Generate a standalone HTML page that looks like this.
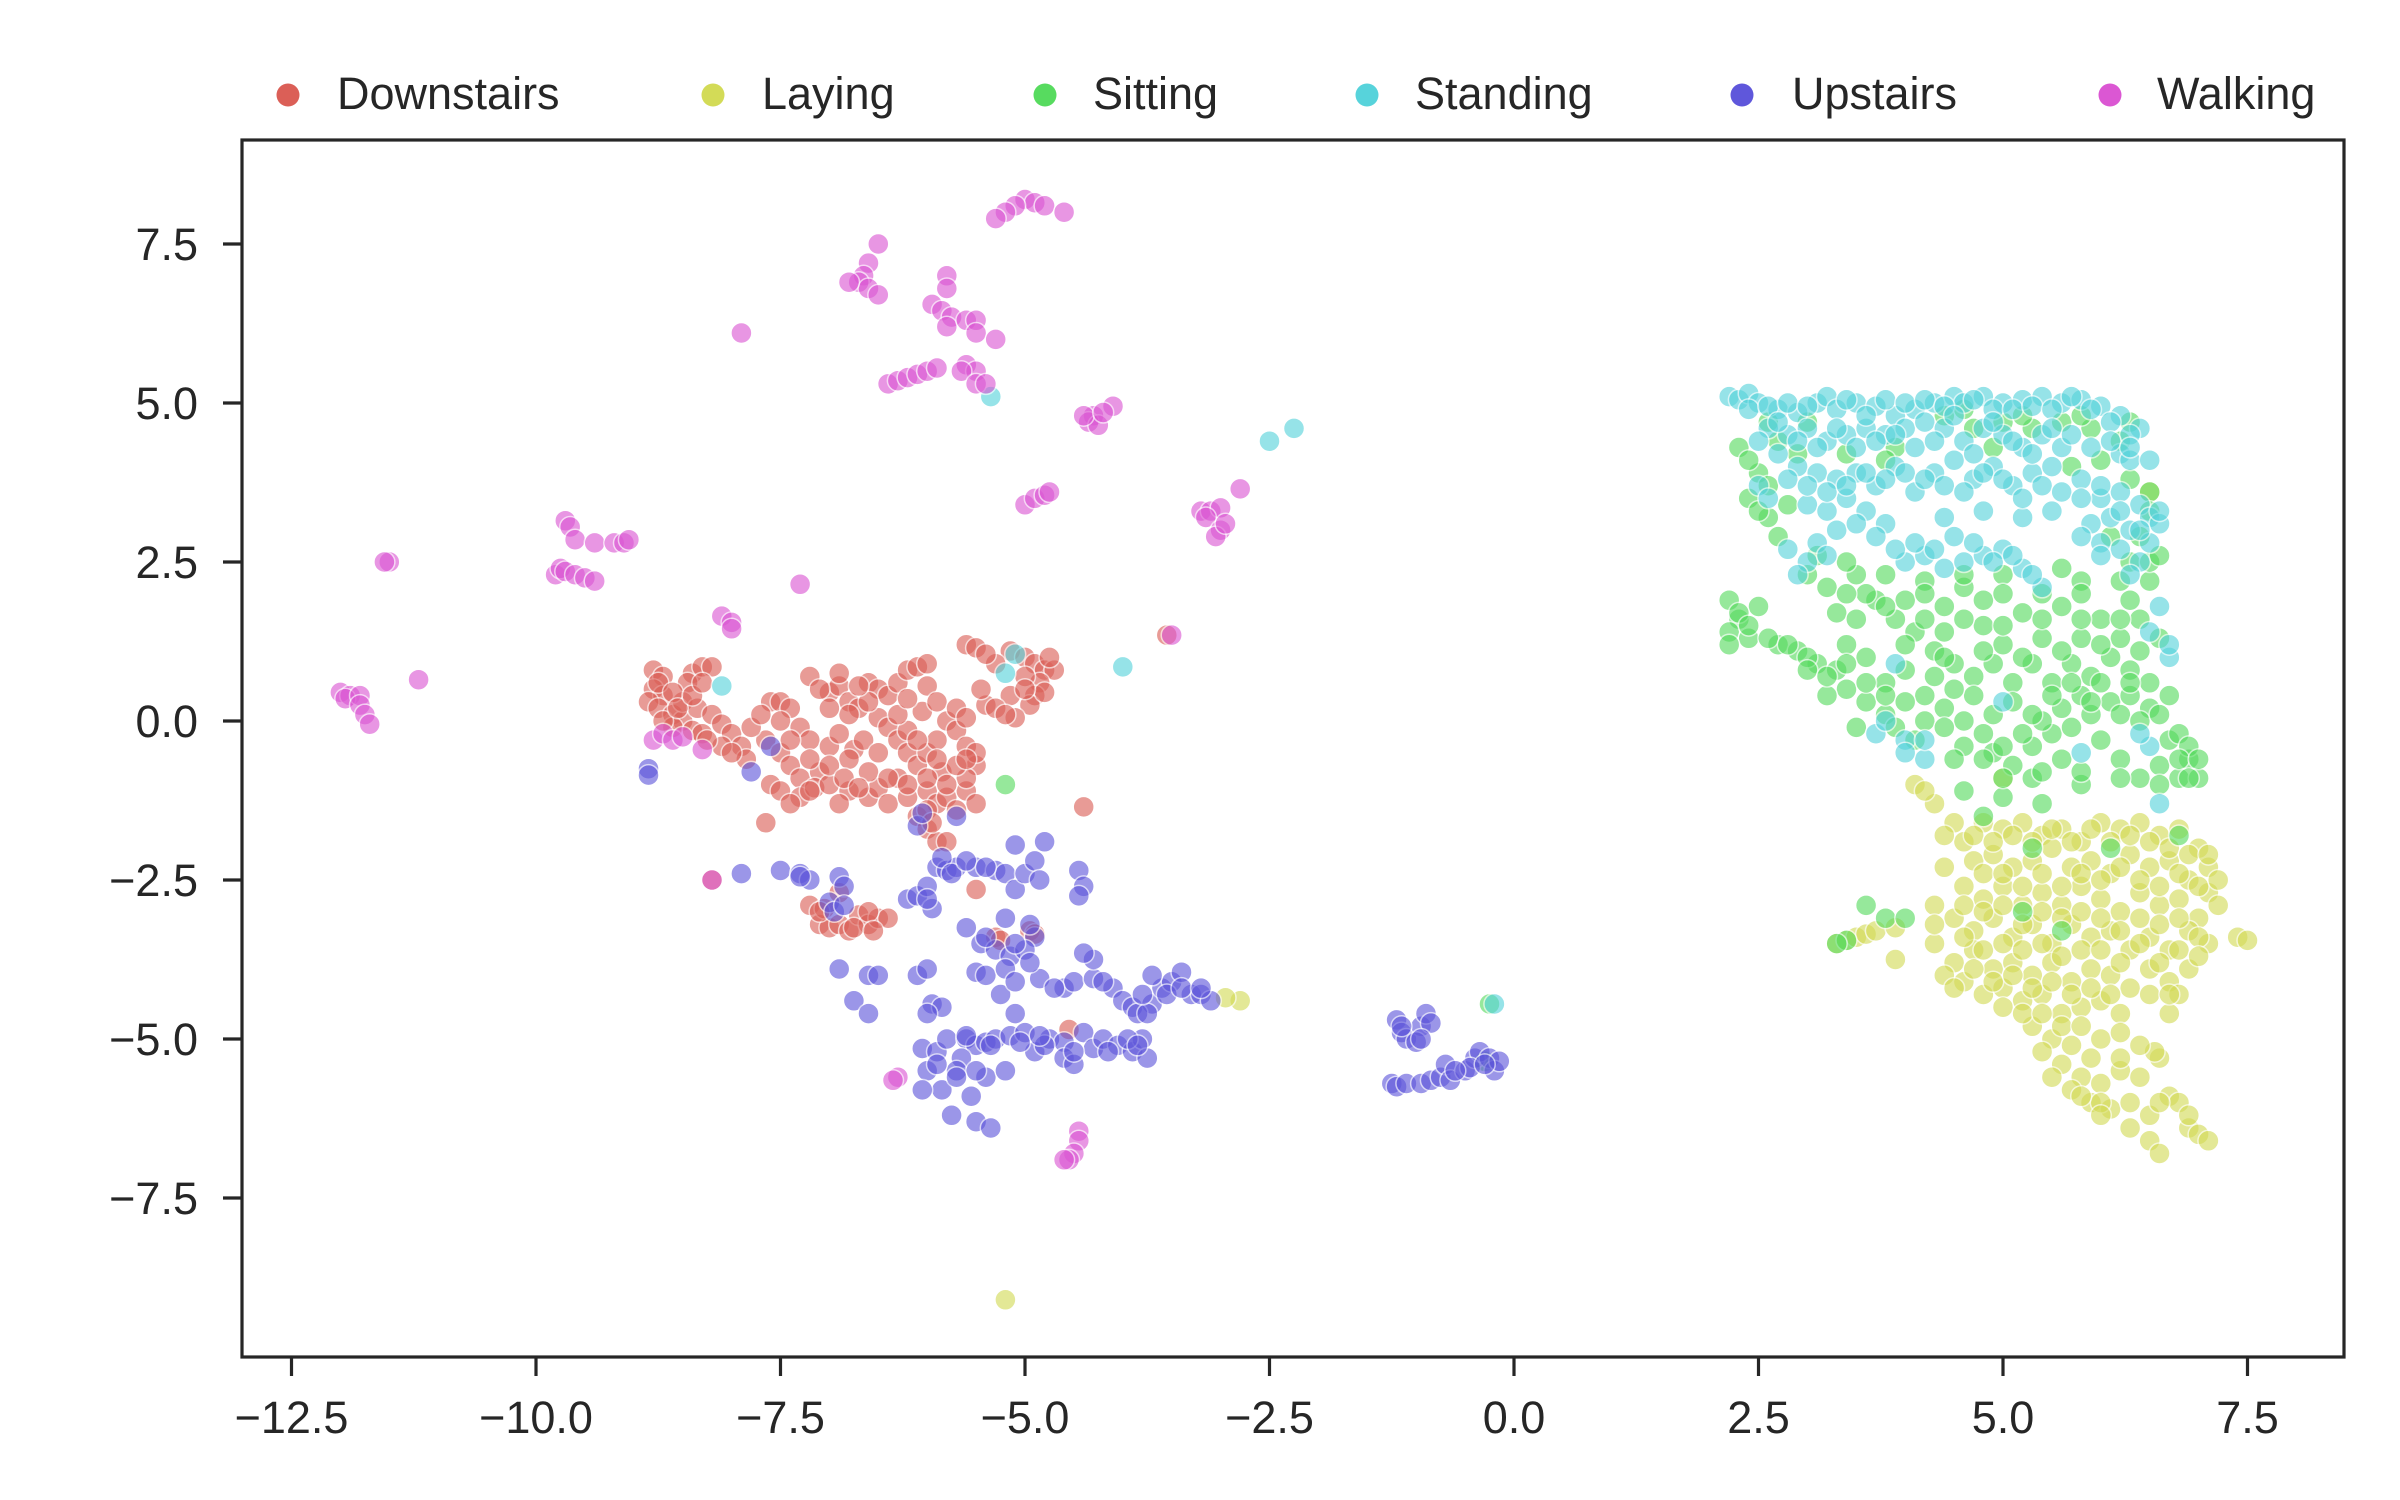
<!DOCTYPE html>
<html><head><meta charset="utf-8"><style>
html,body{margin:0;padding:0;background:#fff;}
svg{display:block;font-family:"Liberation Sans",Arial,sans-serif;}
</style></head><body>
<svg id="chart" width="2400" height="1500" viewBox="0 0 2400 1500">
<rect x="0" y="0" width="2400" height="1500" fill="#fff"/>
<g id="points"></g>
<g id="axes"></g>
<g id="legend"></g>
</svg>
<script>
const classes=["Downstairs","Laying","Sitting","Standing","Upstairs","Walking"];
const colors=["#db5f57","#d3db57","#57db5f","#57d3db","#5f57db","#db57d3"];
const xTicks=[-12.5,-10.0,-7.5,-5.0,-2.5,0.0,2.5,5.0,7.5];
const yTicks=[7.5,5.0,2.5,0.0,-2.5,-5.0,-7.5];
const xTickLabels=["\u221212.5","\u221210.0","\u22127.5","\u22125.0","\u22122.5","0.0","2.5","5.0","7.5"];
const yTickLabels=["7.5","5.0","2.5","0.0","\u22122.5","\u22125.0","\u22127.5"];
const downstairs=[-8.8,0.8,-8.7,0.7,-8.8,0.5,-8.7,0.4,-8.85,0.3,-8.75,0.2,-8.6,0.1,-8.5,0.0,-8.4,0.75,-8.3,0.85,-8.2,0.85,-8.45,0.6,-8.5,0.3,-8.35,0.2,-8.2,0.1,-8.1,-0.05,-8.0,-0.2,-7.9,-0.4,-7.85,-0.6,-8.6,-0.1,-8.4,-0.15,-8.7,0.0,-8.3,-0.2,-8.1,-0.4,
-7.6,0.3,-7.5,0.3,-7.4,0.2,-7.5,0.0,-7.3,-0.1,-7.2,-0.3,-7.0,-0.4,-6.9,-0.2,-6.75,-0.45,-7.65,-0.3,-7.5,-0.5,-7.4,-0.7,-7.3,-0.9,-7.1,-0.8,-7.6,-1.0,-7.5,-1.1,-7.3,-1.2,-7.15,-1.05,-7.0,-1.0,-6.8,-1.1,-6.6,-1.2,-6.5,-1.05,-6.4,-1.3,-6.2,-1.2,-6.0,-1.1,-5.9,-1.3,-5.8,-1.2,-5.6,-1.1,-5.5,-1.3,-5.7,-1.4,-6.9,-1.3,-6.6,-0.8,-7.65,-1.6,
-7.2,0.7,-7.0,0.45,-6.9,0.55,-6.8,0.3,-6.7,0.2,-6.6,0.6,-6.5,0.5,-6.4,0.4,-6.3,0.6,-6.2,0.8,-6.1,0.85,-6.0,0.9,-6.5,0.05,-6.4,-0.1,-6.3,-0.3,-6.2,-0.5,-6.1,-0.7,-6.0,-0.5,-5.9,-0.3,-5.8,0.0,-5.7,-0.15,-5.6,-0.4,-5.5,-0.7,-5.6,-0.9,-5.4,0.25,-6.2,-0.15,-6.05,0.15,-5.85,-0.8,-6.3,-0.9,-6.8,-0.6,-6.65,-0.3,
-5.6,1.2,-5.5,1.15,-5.15,1.1,-5.0,1.0,-4.9,0.9,-4.8,0.8,-4.7,0.8,-4.85,0.6,-4.9,0.4,-4.95,0.25,-5.15,0.4,-5.3,0.2,-5.1,0.05,-4.75,1.0,-5.2,0.1,
-4.4,-1.35,-6.1,-1.5,-6.0,-1.7,-5.9,-1.9,-5.8,-1.9,
-7.2,-2.9,-7.1,-3.2,-7.0,-3.25,-6.9,-3.2,-6.8,-3.3,-6.7,-3.05,-6.6,-3.2,-6.5,-3.1,-6.4,-3.1,-6.9,-2.7,-7.05,-2.95,-6.6,-3.0,
-5.5,-2.65,-5.3,-3.4,-5.25,-3.45,-4.95,-3.3,-4.9,-3.35,-8.2,-2.5,-3.55,1.35,-4.55,-4.85,
-8.75,0.6,-8.6,0.45,-8.55,0.2,-8.4,0.4,-8.3,0.6,-8.25,-0.3,-8.0,-0.5,-7.8,-0.1,-7.7,0.1,-7.4,-0.3,-7.2,-0.6,-7.0,-0.7,-6.85,-0.9,-7.2,-1.1,-7.4,-1.3,-6.7,-1.05,-6.4,-0.9,-6.2,-1.0,-6.0,-0.9,-5.8,-1.0,-5.7,-0.7,-5.5,-0.5,-5.6,-0.6,-5.9,-0.6,-6.1,-0.3,-6.3,0.1,-6.6,0.3,-6.8,0.1,-7.0,0.2,-7.1,0.5,-6.9,0.75,-6.7,0.55,-6.2,0.35,-6.0,0.55,-5.9,0.3,-5.7,0.2,-5.6,0.05,-5.45,0.5,-5.3,0.9,-5.0,0.7,-4.8,0.45,-5.0,0.5,-5.4,1.05,-6.5,-0.5,-6.0,-1.4,-5.95,-1.6,-7.1,-3.0,-6.75,-3.25,-6.55,-3.3];
const laying=[4.1,-1.0,4.3,-1.3,4.5,-1.6,4.6,-1.9,4.8,-1.6,5.0,-1.7,5.2,-1.6,5.4,-1.8,5.6,-1.7,5.8,-1.9,6.0,-1.6,6.2,-1.7,6.4,-1.6,6.6,-1.8,6.8,-1.7,7.0,-2.0,7.1,-2.3,
4.7,-2.2,4.9,-2.1,5.1,-2.3,5.3,-2.2,5.5,-2.0,5.7,-2.3,5.9,-2.2,6.1,-2.4,6.3,-2.1,6.5,-2.3,6.7,-2.2,6.9,-2.5,7.1,-2.7,
4.6,-2.6,4.8,-2.8,5.0,-2.6,5.2,-2.9,5.4,-2.7,5.6,-2.9,5.8,-2.6,6.0,-2.8,6.2,-3.0,6.4,-2.7,6.6,-2.9,6.8,-2.8,7.0,-3.1,7.2,-2.9,
4.5,-3.1,4.7,-3.3,4.9,-3.1,5.1,-3.4,5.3,-3.2,5.5,-3.5,5.7,-3.2,5.9,-3.4,6.1,-3.3,6.3,-3.6,6.5,-3.4,6.7,-3.6,6.9,-3.3,7.1,-3.5,7.4,-3.4,7.5,-3.45,
4.3,-3.5,4.5,-3.8,4.7,-3.6,4.9,-3.9,5.1,-3.8,5.3,-4.0,5.5,-3.8,5.7,-4.1,5.9,-3.9,6.1,-4.0,6.3,-4.2,6.5,-3.9,6.7,-4.1,6.9,-3.9,
4.6,-4.1,4.8,-4.3,5.0,-4.2,5.2,-4.4,5.4,-4.3,5.6,-4.6,5.8,-4.5,6.0,-4.4,6.2,-4.6,6.8,-4.3,6.7,-4.6,
5.3,-4.8,5.5,-5.0,5.7,-5.1,5.9,-5.3,5.4,-5.2,5.6,-5.4,5.8,-5.6,6.0,-5.7,6.2,-5.5,6.4,-5.6,6.6,-5.3,5.7,-5.8,5.9,-6.0,6.1,-6.1,6.3,-6.4,6.5,-6.6,6.6,-6.8,6.7,-5.9,6.8,-6.0,6.9,-6.4,7.0,-6.5,7.1,-6.6,6.5,-6.2,
3.3,-3.5,3.4,-3.45,3.5,-3.4,3.6,-3.35,3.7,-3.3,3.9,-3.25,3.9,-3.75,6.0,-6.0,6.55,-5.2,4.4,-4.0,4.3,-2.9,4.4,-2.3,6.5,3.6,5.0,-0.9,
-5.2,-9.1,-2.8,-4.4,-2.95,-4.35,
4.7,-1.8,4.9,-1.9,5.1,-1.8,5.3,-1.9,5.5,-1.7,5.7,-1.9,5.9,-1.7,6.1,-1.9,6.3,-1.8,6.5,-1.9,6.7,-2.0,6.9,-2.1,7.1,-2.1,
4.8,-2.4,5.0,-2.4,5.2,-2.6,5.4,-2.4,5.6,-2.6,5.8,-2.4,6.0,-2.5,6.2,-2.3,6.4,-2.5,6.6,-2.6,6.8,-2.4,7.0,-2.6,7.2,-2.5,
4.6,-2.9,4.8,-3.0,5.0,-2.9,5.2,-3.2,5.4,-3.0,5.6,-3.1,5.8,-3.0,6.0,-3.1,6.2,-3.3,6.4,-3.1,6.6,-3.2,6.8,-3.1,7.0,-3.4,
4.6,-3.4,4.8,-3.6,5.0,-3.5,5.2,-3.6,5.4,-3.5,5.6,-3.7,5.8,-3.6,6.0,-3.6,6.2,-3.8,6.4,-3.5,6.6,-3.8,6.8,-3.6,7.0,-3.7,
4.7,-3.9,4.9,-4.1,5.1,-4.0,5.3,-4.2,5.5,-4.1,5.7,-4.3,5.9,-4.2,6.1,-4.3,6.5,-4.3,6.7,-4.3,
5.0,-4.5,5.2,-4.6,5.4,-4.6,5.6,-4.8,5.8,-4.8,6.0,-5.0,6.2,-4.9,5.5,-5.6,5.8,-5.9,6.0,-6.2,6.3,-6.0,6.6,-6.0,6.9,-6.2,6.2,-5.3,6.4,-5.1,
4.4,-1.8,4.2,-1.1,4.3,-3.2,4.5,-4.2];
const sitting=[2.3,4.3,2.5,3.9,2.4,3.5,2.6,3.2,2.7,2.9,3.1,2.6,3.5,2.3,2.2,1.9,2.3,1.6,2.2,1.4,2.4,1.3,2.5,1.8,2.7,1.2,2.9,1.1,3.1,0.9,3.3,0.8,3.4,0.5,3.6,0.3,3.8,0.1,3.9,-0.1,4.1,-0.3,3.5,-0.1,3.2,0.4,3.0,1.0,3.4,1.2,3.6,1.0,3.8,0.6,4.0,0.8,4.2,0.4,4.4,0.2,4.6,0.0,4.8,-0.2,4.9,-0.5,5.1,-0.7,5.3,-0.4,5.5,-0.2,5.7,-0.1,5.9,0.1,6.1,0.3,6.3,0.4,6.5,0.2,6.7,-0.3,6.9,-0.6,6.8,-0.9,6.6,-0.7,6.4,-0.9,6.2,-0.6,5.8,-1.0,5.4,-1.3,5.0,-1.2,4.6,-1.1,
3.3,1.7,3.5,1.6,3.7,1.9,3.9,1.6,4.1,1.4,4.3,1.1,4.5,0.9,4.7,0.7,4.9,0.9,5.1,0.6,5.3,0.9,5.5,0.6,5.7,0.9,5.9,0.7,6.1,1.0,6.3,0.8,6.5,0.6,6.7,0.4,
3.2,2.1,3.6,2.0,4.0,1.9,4.4,1.8,4.8,1.9,5.2,1.7,5.6,1.8,6.0,1.6,6.3,1.9,6.5,2.2,6.4,1.6,
4.2,2.2,4.6,2.1,5.0,2.3,5.6,2.4,5.8,2.2,5.0,1.2,5.4,1.3,5.8,1.3,4.4,1.4,4.8,1.5,6.2,1.3,
2.6,4.7,2.9,4.2,3.4,4.2,3.9,4.3,4.4,4.8,4.7,4.6,5.0,4.7,5.3,4.6,5.6,4.7,5.9,4.6,6.2,4.4,6.0,4.1,5.7,4.0,6.3,3.8,6.5,3.6,6.1,2.9,6.3,2.5,3.0,4.7,2.7,4.4,4.9,4.3,
6.8,-0.2,6.9,-0.4,7.0,-0.9,4.8,-1.5,5.3,-0.9,5.6,-0.6,6.0,-0.3,3.6,-2.9,3.8,-3.1,3.4,-3.45,3.3,-3.5,4.0,-3.1,5.3,-2.0,6.1,-2.0,6.8,-1.8,5.2,-3.0,5.6,-3.3,
-5.2,-1.0,-0.3,-5.35,-0.25,-4.45,
2.3,1.7,2.4,1.5,2.2,1.2,2.6,1.3,2.8,1.2,3.0,0.8,3.2,0.7,3.4,0.9,3.6,0.6,3.8,0.4,4.0,0.3,4.2,0.0,4.4,-0.1,4.6,-0.4,4.8,-0.6,5.0,-0.4,5.2,-0.2,5.4,0.0,5.6,0.2,5.8,0.4,6.0,0.6,6.2,0.1,6.4,0.0,6.6,0.1,6.8,-0.6,7.0,-0.6,6.9,-0.9,
3.4,2.0,3.8,1.8,4.2,1.6,4.6,1.6,5.0,1.5,5.4,1.6,5.8,1.6,6.2,1.6,6.6,1.3,4.0,1.2,4.4,1.0,4.8,1.1,5.2,1.0,5.6,1.1,6.0,1.2,6.4,1.1,
4.3,0.7,4.7,0.4,5.1,0.3,5.5,0.4,5.9,0.3,6.3,0.6,4.5,0.5,4.9,0.1,5.3,0.1,5.7,0.6,
3.0,2.3,3.4,2.5,3.8,2.3,4.2,2.0,4.6,2.3,5.0,2.0,5.4,2.0,5.8,2.0,6.2,2.2,6.5,2.5,
5.4,-0.8,5.8,-0.8,6.2,-0.9,5.0,-0.9,4.5,-0.6,6.6,-1.0,
2.4,4.1,2.6,3.7,2.8,3.4,2.5,3.3,3.8,4.1,4.6,4.9,5.2,4.8,5.8,4.8,6.3,4.7,6.5,3.3,6.4,2.9,6.6,2.6];
const standing=[2.2,5.1,2.3,5.05,2.4,5.15,2.5,5.0,2.7,4.9,2.9,4.85,3.1,5.0,3.2,5.1,3.3,4.9,3.5,5.0,3.7,4.95,3.9,4.8,4.1,4.9,4.3,5.0,4.5,5.1,4.6,5.0,4.8,5.1,5.0,5.0,5.2,5.05,5.4,5.1,5.6,5.0,5.8,5.05,6.0,4.95,6.2,4.8,6.4,4.6,
2.6,4.6,2.8,4.5,3.0,4.6,3.2,4.4,3.4,4.5,3.6,4.6,3.8,4.5,4.0,4.6,4.2,4.7,4.4,4.6,4.6,4.4,4.8,4.6,5.0,4.5,5.2,4.3,5.4,4.5,5.6,4.3,6.2,4.2,6.3,4.1,
2.7,4.2,2.9,4.0,3.1,3.9,3.3,3.8,3.5,3.9,3.7,3.7,3.9,4.0,4.1,3.6,4.3,3.9,4.5,4.1,4.7,3.8,4.9,4.0,5.1,3.7,5.3,3.9,5.5,4.0,5.8,3.8,6.0,3.5,6.2,3.6,6.4,3.4,6.5,3.2,6.6,3.1,6.3,3.0,6.1,3.2,5.9,3.1,6.0,2.8,6.2,2.7,6.4,2.5,6.5,2.8,
2.5,3.7,2.6,3.5,3.0,3.4,3.2,3.3,3.4,3.5,3.6,3.3,3.8,3.1,3.3,3.0,3.1,2.8,4.4,3.2,4.8,3.3,5.2,3.2,5.5,3.3,
4.0,2.5,4.2,2.6,4.4,2.4,4.6,2.5,4.8,2.6,5.0,2.7,5.2,2.4,5.4,2.1,3.0,2.5,2.9,2.3,
6.6,1.8,6.5,1.4,6.7,1.0,4.0,-0.3,4.2,-0.6,3.7,-0.2,5.8,-0.5,6.6,-1.3,6.5,-0.4,3.9,0.9,
-2.25,4.6,-2.5,4.4,-4.0,0.85,-5.2,0.75,-5.1,1.05,-5.35,5.1,-8.1,0.55,-0.2,-4.45,
2.4,4.9,2.6,4.95,2.8,5.0,3.0,4.95,3.4,5.05,3.6,4.8,3.8,5.05,4.0,5.0,4.2,5.05,4.4,4.95,4.7,5.05,4.9,4.9,5.1,4.9,5.3,4.95,5.5,4.9,5.7,5.1,5.9,4.9,6.1,4.7,6.3,4.5,
2.5,4.4,2.7,4.7,2.9,4.4,3.1,4.3,3.3,4.6,3.5,4.3,3.7,4.4,3.9,4.5,4.1,4.3,4.3,4.4,4.5,4.8,4.7,4.2,4.9,4.7,5.1,4.4,5.3,4.2,5.5,4.6,5.7,4.5,5.9,4.3,6.1,4.4,6.3,4.3,6.5,4.1,
2.8,3.8,3.0,3.7,3.2,3.6,3.4,3.7,3.6,3.9,3.8,3.8,4.0,3.9,4.2,3.8,4.4,3.7,4.6,3.6,4.8,3.9,5.0,3.8,5.2,3.5,5.4,3.7,5.6,3.6,5.8,3.5,6.0,3.7,6.2,3.3,6.4,3.0,6.6,3.3,5.8,2.9,6.0,2.6,6.3,2.3,
3.5,3.1,3.7,2.9,3.9,2.7,4.1,2.8,4.3,2.7,4.5,2.9,4.7,2.8,4.9,2.5,5.1,2.6,5.3,2.3,3.2,2.6,2.8,2.7,
4.2,-0.3,4.0,-0.5,6.4,-0.2,6.7,1.2,3.8,0.0,5.0,0.3];
const upstairs=[-8.85,-0.75,-8.85,-0.85,-7.8,-0.8,-7.9,-2.4,-7.5,-2.35,-7.3,-2.4,-7.2,-2.5,-7.3,-2.45,-6.9,-2.45,-6.85,-2.6,-7.0,-2.85,-6.95,-3.0,-6.85,-2.9,
-7.6,-0.4,-6.9,-3.9,-6.75,-4.4,-6.6,-4.6,-6.6,-4.0,-6.5,-4.0,-6.1,-4.0,-6.0,-3.9,-5.5,-3.95,-5.4,-4.0,-5.45,-3.5,-5.3,-3.6,-5.15,-3.7,
-6.2,-2.8,-6.1,-2.75,-6.0,-2.6,-5.9,-2.3,-5.8,-2.35,-5.7,-2.3,-5.5,-2.3,-5.3,-2.35,-5.2,-2.4,-5.1,-2.65,-5.0,-2.4,-4.9,-2.2,-4.85,-2.5,-5.85,-2.15,-5.95,-2.95,-5.6,-3.25,-5.4,-3.4,
-5.1,-1.95,-6.1,-1.65,-4.8,-1.9,-6.05,-1.45,-5.7,-1.5,-4.45,-2.35,-4.4,-2.6,-4.45,-2.75,
-5.2,-3.1,-4.9,-3.4,-4.95,-3.2,-5.0,-3.6,-5.2,-3.9,-5.25,-4.3,-5.1,-4.6,-4.85,-4.05,-4.6,-4.2,-4.5,-4.1,-4.3,-4.05,-4.1,-4.2,-4.0,-4.4,-3.9,-4.5,-3.7,-4.45,-3.6,-4.2,-3.5,-4.1,-3.4,-3.95,-3.3,-4.3,-3.2,-4.3,-3.1,-4.4,-3.7,-4.0,-4.3,-3.75,-4.4,-3.65,-3.85,-4.6,-3.75,-4.6,
-5.95,-4.45,-5.85,-4.5,-6.05,-5.15,-5.9,-5.2,-5.8,-5.0,-5.6,-5.0,-5.5,-5.1,-5.4,-5.05,-5.3,-5.0,-5.15,-4.95,-5.0,-4.9,-4.9,-5.2,-4.75,-5.0,-4.6,-5.05,-4.4,-4.9,-4.3,-5.15,-4.2,-5.0,-4.05,-5.1,-3.9,-5.2,-3.8,-5.0,-3.75,-5.3,-4.6,-5.3,-5.65,-5.3,-6.0,-5.5,-5.85,-5.8,-6.05,-5.8,-5.7,-5.5,-5.4,-5.6,-5.5,-5.5,-5.2,-5.5,-4.5,-5.4,-5.55,-5.9,-5.75,-6.2,-5.5,-6.3,-5.35,-6.4,-4.8,-5.1,
-1.2,-4.7,-1.15,-4.9,-1.1,-5.0,-0.95,-4.8,-0.9,-4.6,-0.85,-4.75,-1.0,-5.05,-1.25,-5.7,-1.2,-5.75,-1.1,-5.7,-0.95,-5.7,-0.85,-5.65,-0.75,-5.6,-0.7,-5.4,-0.65,-5.65,-0.5,-5.5,-0.4,-5.3,-0.35,-5.2,-0.25,-5.3,-0.2,-5.5,-0.15,-5.35,-0.45,-5.45,
-5.6,-4.95,-5.35,-5.1,-5.05,-5.05,-4.85,-4.95,-4.5,-5.2,-4.15,-5.2,-3.95,-5.0,-3.85,-5.1,-4.7,-4.2,-4.2,-4.1,-3.8,-4.3,-3.55,-4.3,-3.4,-4.2,-3.2,-4.2,-5.7,-5.6,-5.9,-5.4,-6.0,-4.6,-5.75,-2.4,-5.6,-2.2,-5.4,-2.3,-6.0,-2.8,-5.1,-3.5,-5.1,-4.1,-4.95,-3.8,-1.15,-4.8,-0.95,-5.0,-0.6,-5.5,-0.3,-5.4];
const walking=[-5.0,8.2,-4.9,8.15,-5.1,8.1,-4.8,8.1,-4.6,8.0,-5.2,8.0,-5.3,7.9,
-6.5,7.5,-6.6,7.2,-6.65,7.0,-6.7,6.9,-6.6,6.8,-6.5,6.7,-6.8,6.9,
-5.8,7.0,-5.8,6.8,-5.95,6.55,-5.85,6.45,-5.75,6.35,-5.8,6.2,-5.6,6.3,-5.5,6.3,-5.5,6.1,-5.3,6.0,-5.6,5.6,-5.5,5.5,-5.65,5.5,-5.5,5.3,-5.4,5.3,
-6.4,5.3,-6.3,5.35,-6.2,5.4,-6.1,5.45,-6.0,5.5,-5.9,5.55,-7.9,6.1,
-4.3,4.8,-4.35,4.7,-4.25,4.65,-4.4,4.8,-4.1,4.95,-4.2,4.85,
-5.0,3.4,-4.9,3.5,-4.8,3.55,-4.75,3.6,
-3.2,3.3,-3.1,3.3,-3.0,3.35,-3.15,3.2,-3.0,3.0,-3.05,2.9,-2.95,3.1,-2.8,3.65,
-9.7,3.15,-9.65,3.05,-9.6,2.85,-9.4,2.8,-9.2,2.8,-9.1,2.8,-9.05,2.85,-9.8,2.3,-9.75,2.4,-9.7,2.35,-9.6,2.3,-9.5,2.25,-9.4,2.2,
-11.5,2.5,-11.55,2.5,-7.3,2.15,-8.1,1.65,-8.0,1.55,-8.0,1.45,-11.2,0.65,
-12.0,0.45,-11.9,0.4,-11.95,0.35,-11.8,0.4,-11.8,0.25,-11.75,0.1,-11.7,-0.05,
-8.8,-0.3,-8.7,-0.2,-8.6,-0.3,-8.5,-0.25,-8.3,-0.45,
-8.2,-2.5,-6.3,-5.6,-6.35,-5.65,-4.45,-6.45,-4.45,-6.6,-4.5,-6.8,-4.55,-6.9,-4.6,-6.9,-3.5,1.35];
const series=[downstairs,laying,sitting,standing,upstairs,walking];

const L=242,R=2344,T=140,B=1357;
const X0=1514,XS=97.8,Y0=721,YS=63.6;
function sx(v){return X0+XS*v;}
function sy(v){return Y0-YS*v;}
const NS="http://www.w3.org/2000/svg";
function mk(tag,attrs,parent){const e=document.createElementNS(NS,tag);for(const k in attrs)e.setAttribute(k,attrs[k]);parent.appendChild(e);return e;}

const pts=document.getElementById('points');
series.forEach((arr,si)=>{
  const g=mk('g',{},pts);
  
  
  for(let i=0;i<arr.length;i+=2){
    const c=mk('circle',{cx:sx(arr[i]).toFixed(1),cy:sy(arr[i+1]).toFixed(1),r:10.5,fill:colors[si],stroke:'#fff','stroke-width':1.5,opacity:0.62},g);
    
    
  }
});

const ax=document.getElementById('axes');
const frame=mk('rect',{x:L,y:T,width:R-L,height:B-T,fill:'none',stroke:'#262626','stroke-width':3.2},ax);


xTicks.forEach((v,i)=>{
  const x=sx(v);
  const t=mk('line',{x1:x,y1:B,x2:x,y2:B+19,stroke:'#262626','stroke-width':3.2},ax);
  
  
  const lb=mk('text',{x:x,y:1433,'text-anchor':'middle','font-size':45,fill:'#262626'},ax);
  lb.textContent=xTickLabels[i];
  
  
});
yTicks.forEach((v,i)=>{
  const y=sy(v);
  const t=mk('line',{x1:L-19,y1:y,x2:L,y2:y,stroke:'#262626','stroke-width':3.2},ax);
  
  
  const lb=mk('text',{x:198,y:y+16,'text-anchor':'end','font-size':45,fill:'#262626'},ax);
  lb.textContent=yTickLabels[i];
  
  
});

const lg=document.getElementById('legend');
const legMarkX=[288,713,1045,1367,1742,2110];
const legTextX=[337,762,1093,1415,1792,2157];
classes.forEach((n,i)=>{
  const g=mk('g',{},lg);
  
  
  const c=mk('circle',{cx:legMarkX[i],cy:95,r:11.5,fill:colors[i]},g);
  
  
  const t=mk('text',{x:legTextX[i],y:109,'font-size':45,fill:'#262626'},g);
  t.textContent=n;
  
  
});
</script>
</body></html>
